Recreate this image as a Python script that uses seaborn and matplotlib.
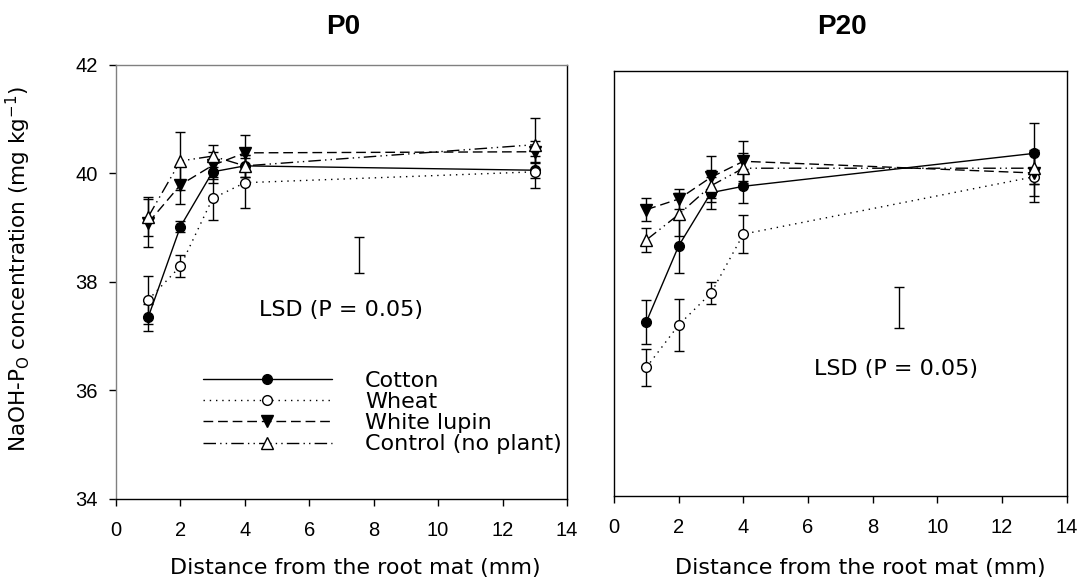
import matplotlib
matplotlib.use("Agg")
import matplotlib.pyplot as plt
import seaborn as sns
import pandas as pd

# distances (mm)
distance = [1, 2, 3, 4, 13]
series = ["Cotton", "Wheat", "White lupin", "Control (no plant)"]

# P0 panel: means and error bars
p0_cotton = [37.35, 39.02, 40.03, 40.14, 40.06]
p0_wheat = [37.67, 38.29, 39.54, 39.83, 40.03]
p0_lupin = [39.09, 39.79, 40.15, 40.38, 40.40]
p0_control = [39.20, 40.23, 40.32, 40.14, 40.53]
p0_cotton_err = [0.25, 0.10, 0.20, 0.20, 0.15]
p0_wheat_err = [0.44, 0.20, 0.40, 0.46, 0.30]
p0_lupin_err = [0.44, 0.36, 0.25, 0.33, 0.20]
p0_control_err = [0.36, 0.54, 0.21, 0.20, 0.50]

# P20 panel
p20_cotton = [37.28, 38.71, 39.71, 39.83, 40.45]
p20_wheat = [36.42, 37.22, 37.82, 38.93, 40.01]
p20_lupin = [39.39, 39.59, 40.00, 40.30, 40.08]
p20_control = [38.82, 39.30, 39.84, 40.17, 40.17]
p20_cotton_err = [0.41, 0.52, 0.30, 0.32, 0.57]
p20_wheat_err = [0.34, 0.49, 0.20, 0.36, 0.47]
p20_lupin_err = [0.22, 0.18, 0.40, 0.38, 0.44]
p20_control_err = [0.22, 0.40, 0.30, 0.28, 0.30]

# LSD bars (x position, low, high) and label position
p0_lsd = (7.55, 38.16, 38.83)
p20_lsd = (8.80, 37.16, 37.93)
p0_lsd_text = (7.0, 37.48)
p20_lsd_text = (8.72, 36.40)

styles = {
    "Cotton": dict(ls="-", marker="o", mfc="black", ms=7),
    "Wheat": dict(ls=(0, (1, 3.5)), marker="o", mfc="white", ms=7),
    "White lupin": dict(ls=(0, (7, 3.5)), marker="v", mfc="black", ms=8),
    "Control (no plant)": dict(ls=(0, (9, 3, 1, 3, 1, 3)), marker="^", mfc="white", ms=8),
}

sns.set_style("ticks")
plt.rcParams["font.family"] = ["DejaVu Sans"]
plt.rcParams["mathtext.fontset"] = "dejavusans"
plt.rcParams["text.color"] = "black"
plt.rcParams["axes.labelcolor"] = "black"
plt.rcParams["xtick.color"] = "black"
plt.rcParams["ytick.color"] = "black"

fig = plt.figure(figsize=(10.82, 5.8), dpi=100)
ax1 = fig.add_axes([0.1072, 0.1397, 0.4168, 0.7483])
ax2 = fig.add_axes([0.5675, 0.1448, 0.4184, 0.7328])

panels = [
    (ax1, [p0_cotton, p0_wheat, p0_lupin, p0_control],
     [p0_cotton_err, p0_wheat_err, p0_lupin_err, p0_control_err], p0_lsd, p0_lsd_text),
    (ax2, [p20_cotton, p20_wheat, p20_lupin, p20_control],
     [p20_cotton_err, p20_wheat_err, p20_lupin_err, p20_control_err], p20_lsd, p20_lsd_text),
]

for ax, means, errs, lsd, lsd_text in panels:
    for name, vals, err in zip(series, means, errs):
        st = styles[name]
        ax.errorbar(distance, vals, yerr=err, fmt="none", ecolor="black",
                    elinewidth=1, capsize=3.6, capthick=1, zorder=2)
        df = pd.DataFrame({"x": distance, "y": vals})
        sns.lineplot(data=df, x="x", y="y", ax=ax, color="black", linestyle=st["ls"],
                     linewidth=1, marker=st["marker"], markerfacecolor=st["mfc"],
                     markeredgecolor="black", markeredgewidth=1, markersize=st["ms"],
                     label=name, legend=False, zorder=3)
    ax.errorbar([lsd[0]], [(lsd[1] + lsd[2]) / 2], yerr=[(lsd[2] - lsd[1]) / 2],
                fmt="none", ecolor="black", elinewidth=1, capsize=3.6, capthick=1)
    ax.text(lsd_text[0], lsd_text[1], "LSD (P = 0.05)", ha="center", va="center", fontsize=16)
    ax.set_xlim(0, 14)
    ax.set_ylim(34, 42)
    ax.set_xticks(range(0, 15, 2))
    ax.set_xlabel("Distance from the root mat (mm)", fontsize=16, va="top")
    ax.tick_params(axis="x", direction="out", length=5, width=1, pad=11, colors="black")
    for lab in ax.get_xticklabels():
        lab.set_fontfamily(["Liberation Sans", "DejaVu Sans"])
        lab.set_fontsize(14.5)
    for sp in ax.spines.values():
        sp.set_visible(True)
        sp.set_color("black")
        sp.set_linewidth(1)

ax1.xaxis.set_label_coords(0.53, -0.136)
ax2.xaxis.set_label_coords(0.543, -0.146)

ax1.set_yticks(range(34, 43, 2))
ax1.tick_params(axis="y", direction="out", length=5, width=1, pad=8, colors="black")
for lab in ax1.get_yticklabels():
    lab.set_fontfamily(["Liberation Sans", "DejaVu Sans"])
    lab.set_fontsize(14.5)
ax1.set_ylabel("NaOH-P$_\\mathregular{O}$ concentration (mg kg$^\\mathregular{-1}$)", fontsize=15.5)
ax1.yaxis.set_label_coords(-0.185, 0.53)
ax1.spines["left"].set_color("#808080")
ax1.spines["top"].set_color("#808080")

ax2.set_ylabel("")
ax2.set_yticks([])

h, l = ax1.get_legend_handles_labels()
ax1.legend(h, l, loc="upper left", bbox_to_anchor=(203 / 1082, 1 - 371 / 580),
           bbox_transform=fig.transFigure, frameon=False, fontsize=16, borderpad=0,
           borderaxespad=0, handlelength=5.8, handletextpad=1.5, labelspacing=0.05)

fig.text(343 / 1082, 1 - 27 / 580, "P0", ha="center", va="center", fontsize=20,
         fontweight="bold", family="Liberation Sans")
fig.text(842 / 1082, 1 - 27 / 580, "P20", ha="center", va="center", fontsize=20,
         fontweight="bold", family="Liberation Sans")

fig.savefig("out.png", dpi=100)
